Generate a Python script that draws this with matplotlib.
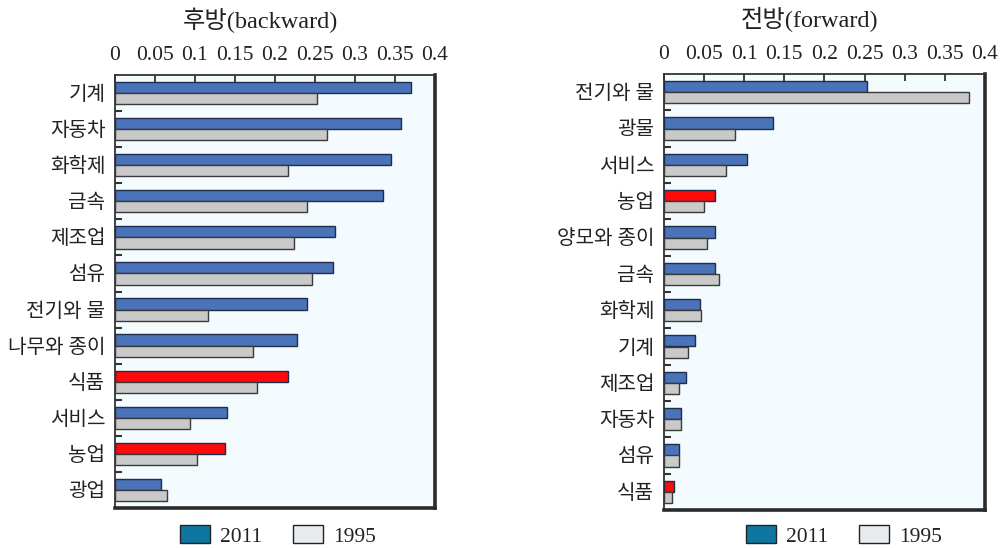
import matplotlib
matplotlib.use("Agg")
import matplotlib.pyplot as plt
from matplotlib.patches import Patch
import numpy as np

plt.rcParams['font.family'] = ['Liberation Serif', 'Noto Sans CJK KR', 'DejaVu Sans']

# ---- data ----
back_cats = ["기계", "자동차", "화학제", "금속", "제조업", "섬유", "전기와 물",
             "나무와 종이", "식품", "서비스", "농업", "광업"]
back_2011 = [0.370, 0.358, 0.345, 0.335, 0.275, 0.272, 0.240, 0.228, 0.216, 0.140, 0.138, 0.058]
back_1995 = [0.253, 0.265, 0.216, 0.240, 0.224, 0.246, 0.116, 0.173, 0.178, 0.094, 0.102, 0.065]
back_red = ["식품", "농업"]

fwd_cats = ["전기와 물", "광물", "서비스", "농업", "양모와 종이", "금속", "화학제",
            "기계", "제조업", "자동차", "섬유", "식품"]
fwd_2011 = [0.253, 0.136, 0.103, 0.064, 0.064, 0.064, 0.045, 0.039, 0.027, 0.021, 0.019, 0.0125]
fwd_1995 = [0.380, 0.089, 0.077, 0.050, 0.054, 0.068, 0.046, 0.030, 0.019, 0.021, 0.019, 0.010]
fwd_red = ["농업", "식품"]

xticks = [0, 0.05, 0.1, 0.15, 0.2, 0.25, 0.3, 0.35, 0.4]
xticklabels = ["0", "0.05", "0.1", "0.15", "0.2", "0.25", "0.3", "0.35", "0.4"]

titles = ["후방(backward)", "전방(forward)"]
legend_labels = ["2011", "1995"]

BLUE = "#4a73b9"
RED = "#ff0a0a"
GRAY = "#c9c9c9"
EDGE = "#1f2c4a"
BG = "#f3fbfe"
LEG_BLUE = "#0e76a0"
LEG_GRAY = "#e9ecef"
TXT = "#222222"

fig = plt.figure(figsize=(10.04, 5.48), dpi=100)

def panel(rect, cats, v11, v95, reds, title, title_x, legend_x):
    ax = fig.add_axes(rect)
    ax.set_facecolor(BG)
    n = len(cats)
    y = np.arange(n)
    h = 0.31
    off = 0.155
    colors = [RED if c in reds else BLUE for c in cats]
    ax.barh(y - off, v11, height=h, color=colors, edgecolor=EDGE, linewidth=1.0, zorder=3)
    ax.barh(y + off, v95, height=h, color=GRAY, edgecolor="#3a3a3a", linewidth=1.0, zorder=3)
    ax.set_ylim(n - 0.5, -0.5)
    ax.set_xlim(0, 0.4)
    ax.set_yticks(y)
    ax.set_yticklabels(cats, fontsize=14.5, color=TXT)
    ax.set_yticks(np.arange(0.5, n - 1, 1.0), minor=True)
    ax.tick_params(axis='y', which='major', length=0, pad=7)
    ax.tick_params(axis='y', which='minor', direction='in', length=5, width=1.5, color="#333333")
    ax.xaxis.tick_top()
    ax.set_xticks(xticks)
    ax.set_xticklabels(xticklabels, fontsize=15.5, color=TXT)
    ax.tick_params(axis='x', direction='in', length=5, width=1.2, color="#222222", pad=7)
    for s in ['top', 'left']:
        ax.spines[s].set_linewidth(1.3)
        ax.spines[s].set_color("#333333")
    for s in ['bottom', 'right']:
        ax.spines[s].set_linewidth(2.6)
        ax.spines[s].set_color("#2a2a2a")
    fig.text(title_x, 1 - 20 / 548, title, ha='center', va='center', fontsize=17.5, color=TXT)
    handles = [Patch(facecolor=LEG_BLUE, edgecolor="#222222", linewidth=1.0),
               Patch(facecolor=LEG_GRAY, edgecolor="#222222", linewidth=1.0)]
    fig.legend(handles, legend_labels, loc='center', bbox_to_anchor=(legend_x, 1 - 536 / 548),
               ncol=2, frameon=False, fontsize=15.5, handlelength=1.4, handleheight=0.85,
               handletextpad=0.5, columnspacing=1.4, borderaxespad=0, borderpad=0,
               labelcolor=TXT)
    return ax

panel([115 / 1004, 40 / 548, 320 / 1004, 433 / 548], back_cats, back_2011, back_1995,
      back_red, titles[0], 260 / 1004, 278 / 1004)
panel([664 / 1004, 38 / 548, 321 / 1004, 436 / 548], fwd_cats, fwd_2011, fwd_1995,
      fwd_red, titles[1], 810 / 1004, 844 / 1004)

fig.savefig("out.png", dpi=100)
